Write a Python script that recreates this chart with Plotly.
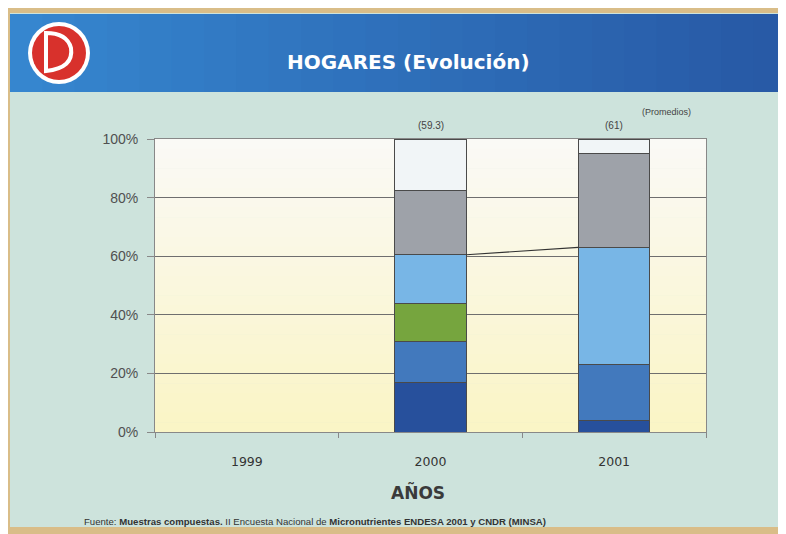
import plotly.graph_objects as go

W, H = 786, 534
OFF = 8  # page offset of the plot div

years = ["1999", "2000", "2001"]
# stacked shares (fraction of households), bottom to top
seg_dark_blue = [0, 0.17, 0.04]
seg_mid_blue = [0, 0.14, 0.19]
seg_green = [0, 0.13, 0.00]
seg_light_blue = [0, 0.165, 0.40]
seg_gray = [0, 0.22, 0.32]
seg_white = [0, 0.175, 0.05]
promedios = ["", "(59.3)", "(61)"]

series = [
    ("Nivel 1", seg_dark_blue, "#27509c"),
    ("Nivel 2", seg_mid_blue, "#4279bd"),
    ("Nivel 3", seg_green, "#76a53e"),
    ("Nivel 4", seg_light_blue, "#78b6e6"),
    ("Nivel 5", seg_gray, "#9ea2a9"),
    ("Nivel 6", seg_white, "#f1f5f7"),
]

# plot area in page pixels
PX0, PX1, PY0, PY1 = 155, 706, 139, 432
bar_w = 0.39


def px(x):
    return (x - OFF) / W


def py(y):
    return 1 - (y - OFF) / H


fig = go.Figure()
for name, vals, col in series:
    fig.add_trace(go.Bar(
        x=years, y=vals, name=name, width=bar_w,
        marker=dict(color=col, line=dict(color="#4a4a4a", width=1)),
        hoverinfo="y+name",
    ))

TAN = "#d9bd88"
shapes = []
# tan border around the slide
shapes.append(dict(type="rect", xref="paper", yref="paper", x0=px(0), x1=px(10), y0=py(560), y1=py(0),
                   fillcolor=TAN, line_width=0, layer="below"))
shapes.append(dict(type="rect", xref="paper", yref="paper", x0=px(0), x1=px(800), y0=py(13), y1=py(0),
                   fillcolor=TAN, line_width=0, layer="below"))
shapes.append(dict(type="rect", xref="paper", yref="paper", x0=px(0), x1=px(800), y0=py(560), y1=py(527),
                   fillcolor=TAN, line_width=0, layer="below"))
# header band with light horizontal gradient
n = 24
c0, c1 = (0x36, 0x86, 0xcf), (0x28, 0x5a, 0xa6)
for i in range(n):
    t = i / (n - 1)
    col = "rgb(%d,%d,%d)" % tuple(int(a + (b - a) * t) for a, b in zip(c0, c1))
    shapes.append(dict(type="rect", xref="paper", yref="paper",
                       x0=px(10 + (W - 10) * i / n), x1=px(10 + (W - 10) * (i + 1) / n) + 0.002,
                       y0=py(92), y1=py(14), fillcolor=col, line_width=0, layer="below"))
# plot area gradient white -> pale yellow
n = 30
g0, g1 = (0xfa, 0xfa, 0xf6), (0xfa, 0xf5, 0xc6)
for i in range(n):
    t = i / (n - 1)
    col = "rgb(%d,%d,%d)" % tuple(int(a + (b - a) * t) for a, b in zip(g0, g1))
    y_top = PY0 + (PY1 - PY0) * i / n
    y_bot = PY0 + (PY1 - PY0) * (i + 1) / n
    shapes.append(dict(type="rect", xref="paper", yref="paper", x0=px(PX0), x1=px(PX1),
                       y0=py(y_bot) - 0.001, y1=py(y_top), fillcolor=col, line_width=0, layer="below"))
# logo
shapes.append(dict(type="circle", xref="paper", yref="paper", x0=px(28), x1=px(90), y0=py(84), y1=py(22),
                   fillcolor="#ffffff", line_width=0))
shapes.append(dict(type="circle", xref="paper", yref="paper", x0=px(32), x1=px(86), y0=py(80), y1=py(26),
                   fillcolor="#d8312c", line_width=0))
d_path = "M %f,%f L %f,%f Q %f,%f %f,%f Q %f,%f %f,%f Z" % (
    px(46), py(33), px(46), py(71), px(74), py(68), px(71), py(48), px(67), py(33), px(46), py(33))
shapes.append(dict(type="path", xref="paper", yref="paper", path=d_path,
                   fillcolor="#d8312c", line=dict(color="#ffffff", width=4)))

# series line joining the top of the light blue segment between 2000 and 2001
cum = [sum(v) for v in zip(seg_dark_blue, seg_mid_blue, seg_green, seg_light_blue)]
shapes.append(dict(type="line", xref="x", yref="y", x0=1 + bar_w / 2, x1=2 - bar_w / 2,
                   y0=cum[1], y1=cum[2], line=dict(color="#333333", width=1.2)))

annotations = [
    dict(text="<b>HOGARES (Evolución)</b>", xref="paper", yref="paper", x=px(408), y=py(62),
         xanchor="center", yanchor="middle",
         showarrow=False, font=dict(family="DejaVu Sans", size=20, color="#ffffff")),
    dict(text="<b>AÑOS</b>", xref="paper", yref="paper", x=px(418), y=py(492),
         xanchor="center", yanchor="middle",
         showarrow=False, font=dict(family="DejaVu Sans", size=17, color="#3a3a3a")),
    dict(text="Fuente: <b>Muestras compuestas.</b> II Encuesta Nacional de <b>Micronutrientes ENDESA 2001 y CNDR (MINSA)</b>",
         xref="paper", yref="paper", x=px(82), y=py(521), xanchor="left", yanchor="middle",
         showarrow=False, font=dict(family="Liberation Sans Narrow, Liberation Sans", size=9.6, color="#333333")),
    dict(text="(Promedios)", xref="paper", yref="paper", x=px(666), y=py(112),
         xanchor="center", yanchor="middle",
         showarrow=False, font=dict(family="Liberation Sans", size=9, color="#444444")),
]
for i, lab in enumerate(promedios):
    if lab:
        annotations.append(dict(text=lab, x=i, xref="x", y=py(126), yref="paper",
                                xanchor="center", yanchor="middle",
                                showarrow=False, font=dict(family="Liberation Sans", size=10, color="#444444")))

fig.update_layout(
    width=W, height=H,
    margin=dict(l=0, r=0, t=0, b=0, pad=0, autoexpand=False),
    paper_bgcolor="#cde3dc",
    plot_bgcolor="rgba(0,0,0,0)",
    barmode="stack",
    showlegend=False,
    shapes=shapes,
    annotations=annotations,
    xaxis=dict(domain=[px(PX0), px(PX1)], type="category", range=[-0.5, 2.5], automargin=False,
               showline=True, linecolor="#888888", mirror=True, showgrid=False,
               ticks="outside", tickson="boundaries", ticklen=5, tickcolor="#888888",
               ticklabelstandoff=18,
               tickfont=dict(family="DejaVu Sans", size=12.5, color="#333333")),
    yaxis=dict(domain=[py(PY1), py(PY0)], range=[0, 1], dtick=0.2, tickformat=".0%", automargin=False,
               showline=True, linecolor="#888888", mirror=True,
               showgrid=True, gridcolor="#6e6e6e", gridwidth=1, zeroline=False,
               ticks="outside", ticklen=7, tickcolor="#888888", ticklabelstandoff=6,
               tickfont=dict(family="Liberation Sans", size=14, color="#505050")),
)

fig.write_html("out.html")
